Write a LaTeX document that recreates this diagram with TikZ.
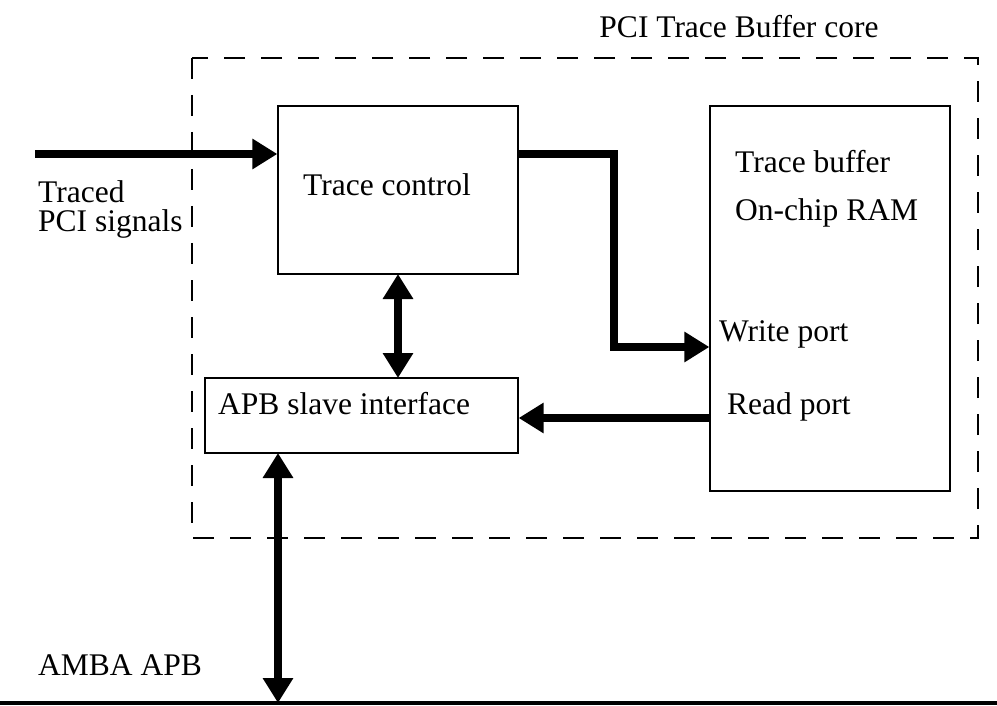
\documentclass[tikz,border=0pt]{standalone}
\usepackage{fontspec}
\setmainfont{Liberation Serif}
\usetikzlibrary{arrows.meta}
\begin{document}
\begin{tikzpicture}[x=1pt,y=-1pt,
  box/.style={draw,line width=1.3pt,inner sep=0pt},
  lbl/.style={font=\fontsize{31.5}{29}\selectfont,inner sep=0pt,anchor=west},
  fat/.style={line width=7.5pt},
  tip/.style={-{Triangle[length=25pt,width=29pt]}},
  dtip/.style={{Triangle[length=25pt,width=29pt]}-{Triangle[length=25pt,width=29pt]}}]
\useasboundingbox (0,0) rectangle (997,706);
\draw[line width=1.3pt,dash pattern=on 21pt off 16pt] (192,58) rectangle (978,538);
\node[box,minimum width=240pt,minimum height=168pt] (tc) at (398,190) {};
\node[box,minimum width=240pt,minimum height=385pt] (tb) at (830,298.5) {};
\node[box,minimum width=313pt,minimum height=75pt] (apb) at (361.5,415.5) {};
\node[lbl,anchor=center] (title) at (739,27) {PCI Trace Buffer core};
\node[lbl] (tct) at (303,185) {Trace control};
\node[lbl] (tbt) at (735,162) {Trace buffer};
\node[lbl] (ram) at (735,213) {On-chip RAM};
\node[lbl] (wp) at (719,334) {Write port};
\node[lbl] (rp) at (727,407) {Read port};
\node[lbl] (apbt) at (218,404) {APB slave interface};
\node[lbl,anchor=base west,align=left] (tr) at (38,232) {Traced\\PCI signals};
\node[lbl] (amba) at (38,665) {AMBA APB};
\coordinate (in) at (35,154);
\coordinate (busL) at (0,703);
\coordinate (busR) at (997,703);
\coordinate (busT) at (278,703);
\draw[line width=4pt] (busL) -- (busR);
\draw[fat,tip] (in) -- (in -| tc.west);
\draw[fat,tip] (tc.east |- in) -| (614,347) -- (tb.west |- 0,347);
\draw[fat,tip] (tb.west |- 0,418) -- (apb.east |- 0,418);
\draw[fat,dtip] (398,274) -- (398,378);
\draw[fat,dtip] (278,453) -- (busT);
\end{tikzpicture}
\end{document}
